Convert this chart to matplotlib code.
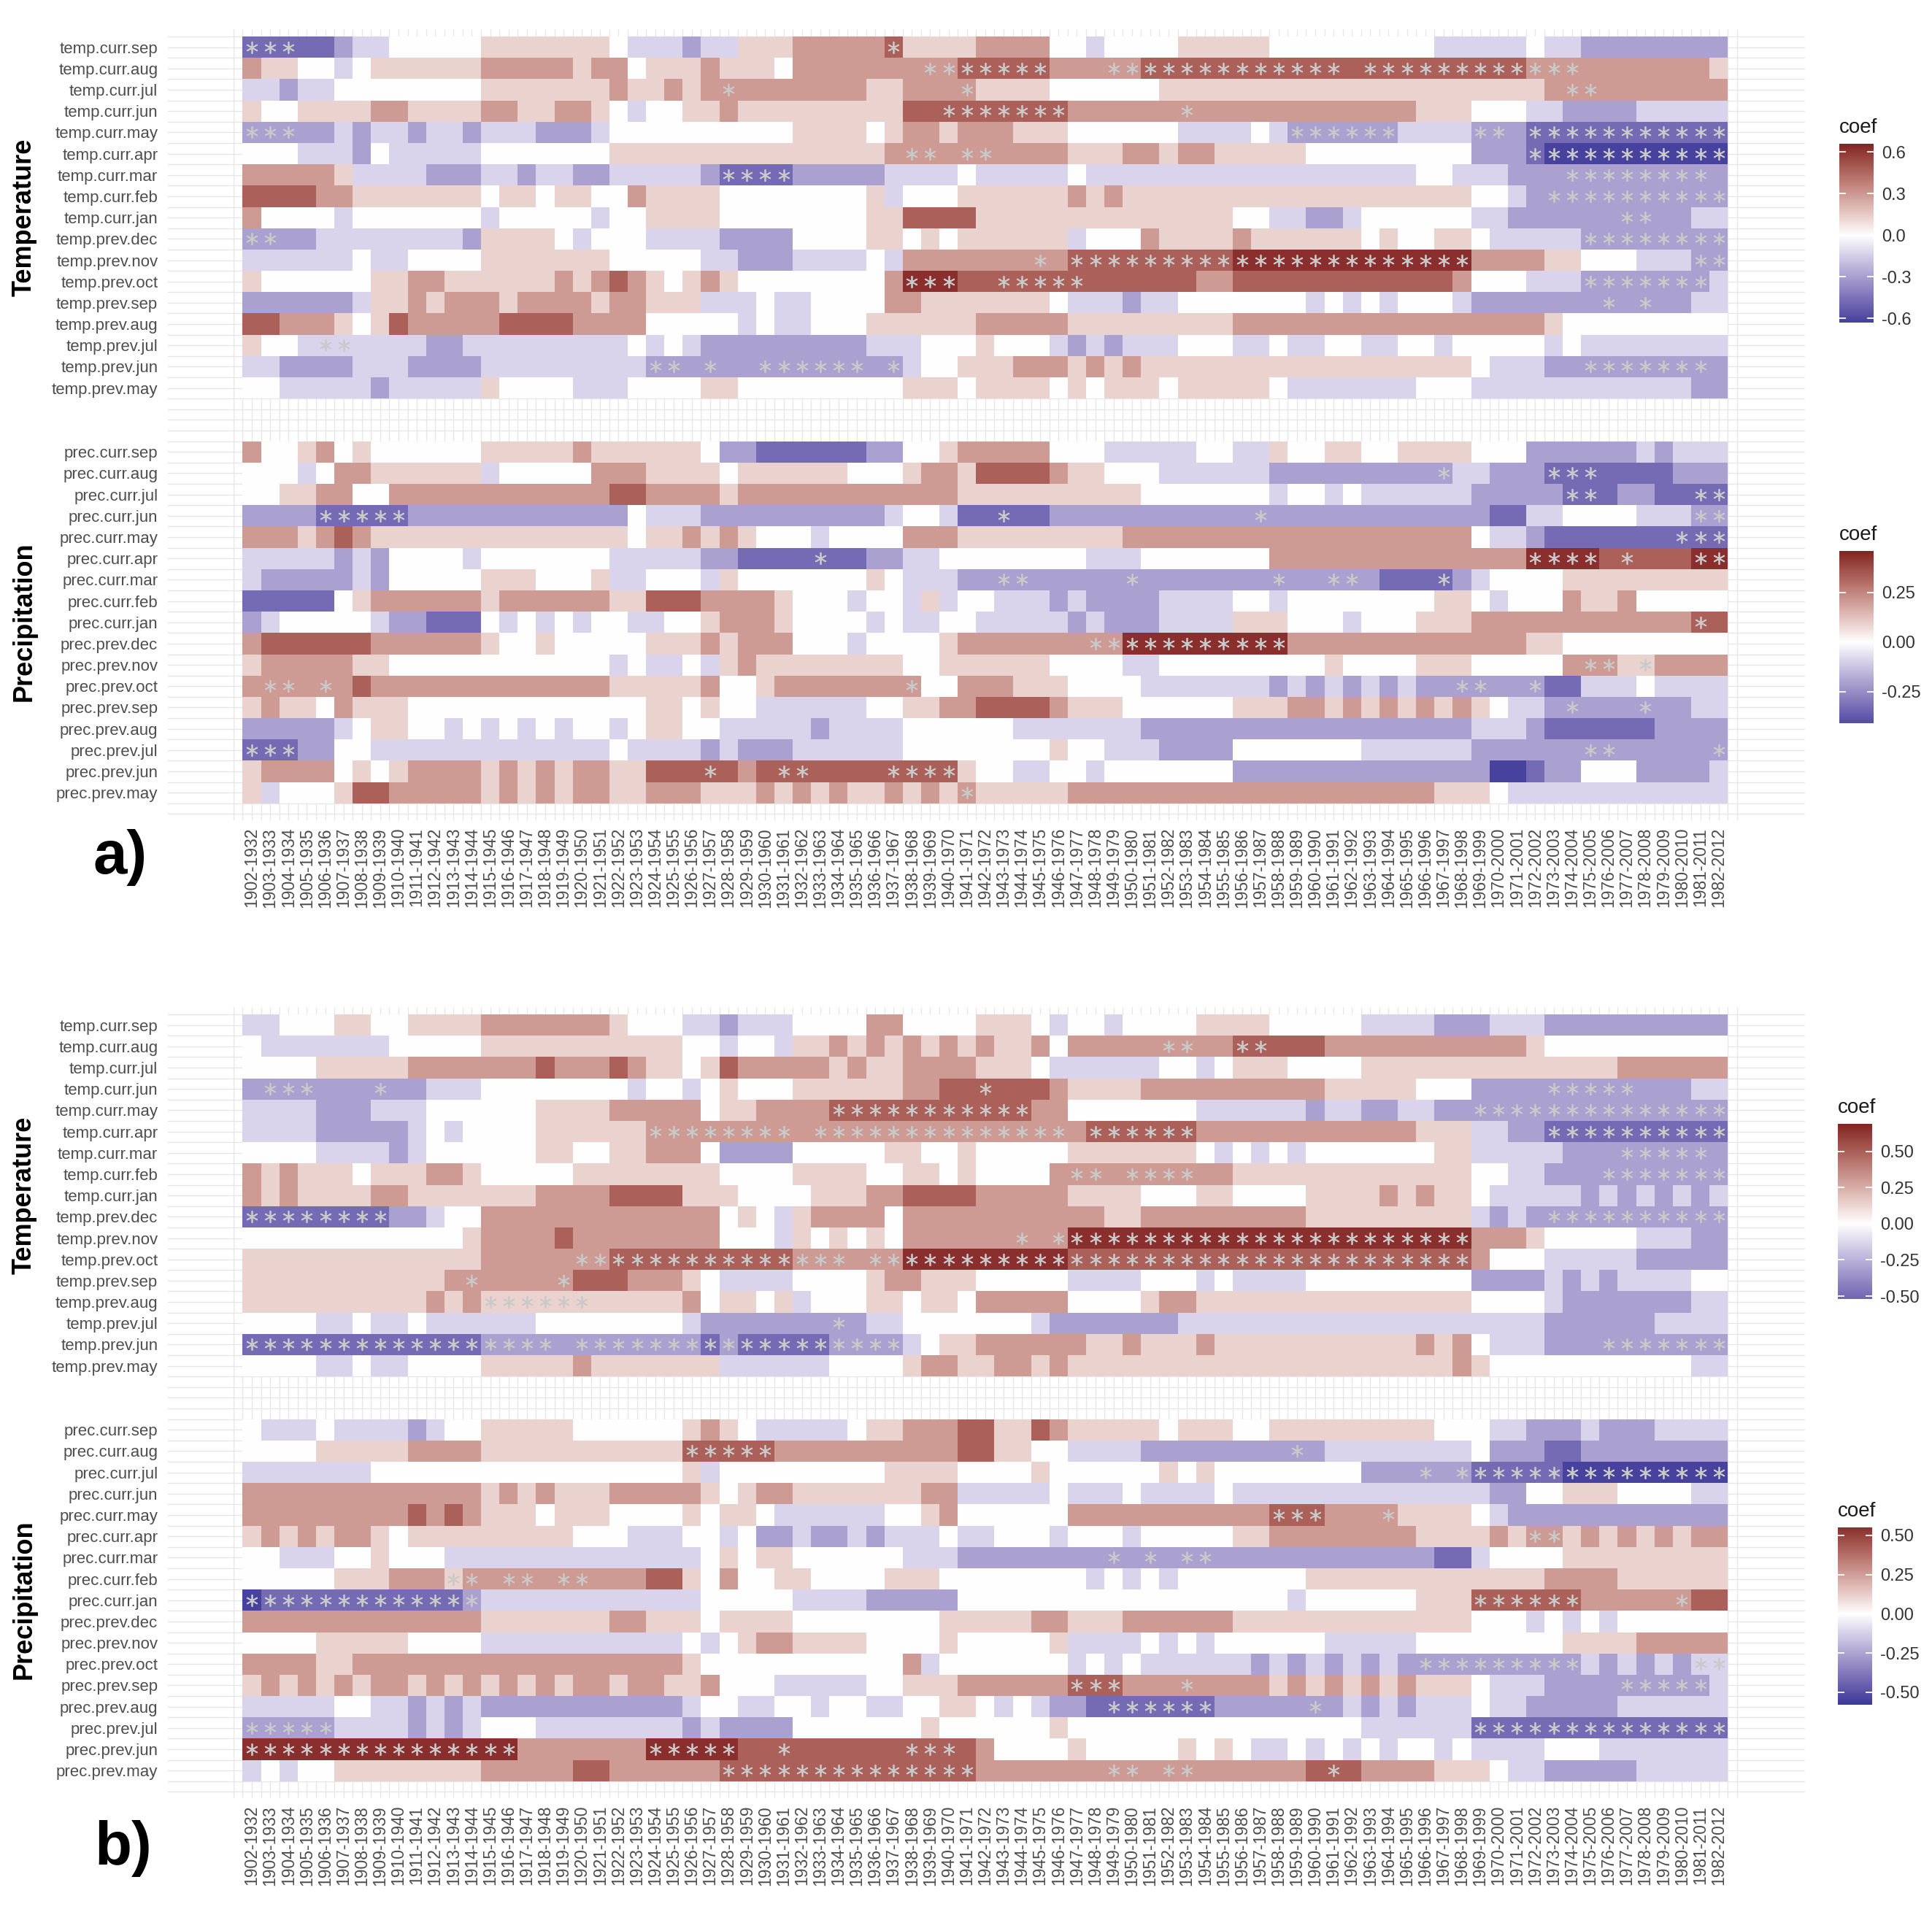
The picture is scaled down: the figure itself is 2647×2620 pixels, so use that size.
import numpy as np
import matplotlib
matplotlib.use("Agg")
import matplotlib.pyplot as plt
from matplotlib.colors import ListedColormap, Normalize

plt.rcParams['font.family'] = ['Liberation Sans', 'DejaVu Sans']

# ---------------- data ----------------
periods = [f"{y}-{y + 30}" for y in range(1902, 1983)]
months = ['curr.sep', 'curr.aug', 'curr.jul', 'curr.jun', 'curr.may', 'curr.apr',
          'curr.mar', 'curr.feb', 'curr.jan', 'prev.dec', 'prev.nov', 'prev.oct',
          'prev.sep', 'prev.aug', 'prev.jul', 'prev.jun', 'prev.may']
temp_labels = ['temp.' + m for m in months]
prec_labels = ['prec.' + m for m in months]

# colour level of each tile: 1 = deep blue, 5 = white, 9 = deep red
level_fraction = {'1': -0.95, '2': -0.72, '3': -0.45, '4': -0.2, '5': 0.0,
                  '6': 0.2, '7': 0.45, '8': 0.72, '9': 0.95}

# colour bar ranges (min, max) of each heatmap
temp_a_range = (-0.63, 0.66)
prec_a_range = (-0.41, 0.46)
temp_b_range = (-0.52, 0.69)
prec_b_range = (-0.58, 0.55)

temp_a = [
    "22222 3 44 55555 6666666 5 444 3 44 | 666 7777 7 8 6666 7777 55 4 5555 666 | 66 555555555 44444 5 44 33333333",
    "7 66 55 4 5 666666 77777 67 7 5 666 7 6 | 665 7777 77 777 88888 77777 88888 | 8888888888888888 777 7777777 6",
    "44344 5 5555555 6666666 7 6 6 7 6 7 7 | 7777777 66 7777 6666 55 5555 6666 | 6666666666666666 6 77 77777777",
    "6 5 5 6 6 66 77 6666 7766776 5 4 55 66 7 | 666 6666 66 88 8 888888 7777 77777 | 7777777777 666 555 44 3333 444 44",
    "333 33 4 3 44344 3 444 333 4 5 55555 5 | 555 6666 5 6 77 6 7 77666 5555 55 444 | 4 5 4 333333 4444 333 22222222222",
    "555 4 4 4 3 5 44444 55555 556 6666 6 6 | 66666666 7 777777777 666 77 6776 | 6666 5555555 55 333 2 1111111111",
    "777 7 7 6 4 44 4 333 44344 33 4 4444 3 2 | 222 33333 4 444 5 44444 5 44444444 | 4444444444 55 4 44333 33333333 3",
    "8888 7 7 6 666666 5665665 5 7 6666 5 | 555 5555 6 4 555 66666 67676 66666 | 6666666666666 55 4 3 3333333333",
    "7 5555 4 5555555 4 5555 5 4 55 666 6 5 | 5 55 5555 66 8888 666666 66666666 | 55 4 4334 5555 5 5 44 333 333 33 3344",
    "33 33 4 4 44 44 44 3 666 6 5 4 5 55 4444 3 | 333 5555 66 565 666666 4 555 76666 | 76 66666 5655 66 5 4444 4 33333333",
    "44444 4 5 44 555 5 6666666 5 55 55 4 4 | 333 4444 5 4 777 7777 7 7 888888888 | 9999999999999 7777 6 6 555 444 33",
    "6 5555 5 5 66 7766 6 66 676 7 8 7 6 5 6 7 6 | 55555555 7 999 88 88888 88888877 | 888888888888 7 555 4 44 3333333 4",
    "333333 4 6 6 76777677776 77 666 4 4 | 4 5 44 555 5 7 7 6666666 5 444 3 44 555 | 555 545454555 4 33333 3 33333344",
    "88 77 7 6 5 6 8 7777 788887 777 5555 5 | 4 5 44 555 6666 66 7777 7 666666666 | 77777777777777777 6 5 55 5 55555",
    "6 55 4 44 4444 33 4 4444444 4 5 4 5 4 33 | 3333333 44 4 555 6 555 4 343 444 555 | 4454455445545 5555 4 5 44444444",
    "4 4 33 33 444 3333 4444444 44 33 3 3 3 | 3 333333 3 3 4 55 6 66 777 676766 666 | 6666666666666 5 444 33 3333333 3",
    "55 44 4 44 3 44444 6 5555 4 4 4 5555 6 6 | 555555555 6 66 5 6666 5 656665666 | 66 5 4444444 555 4444 44 444444 33",
]
temp_a_sig = ["0-2 35", "37-43 47-59 61-72", "26 39 72-73", "38-44 51", "0-2 57-62 67-68 70-80",
              "36-37 39-40 70-80", "26-29 72-79", "71-80", "75-76", "0-1 73-80", "43 45-66 79-80",
              "36-38 41-45 73-79", "74 76", "", "4-5", "22-23 25 28-33 35 73-79", ""]

prec_a = [
    "7 55 6 7 5 6 5 5 5555 66666 7 66 6666 5 3 | 3 22222 2 33 5 5 6 77777 5 55 4444 455 | 44 655665566 66 555 33 333 3 434 44",
    "55 5 4 5 77 66 6666 4 55555 777 666 6 5 | 666666 555 6 77 6 8888 7 66 555 4444 | 44 333333333 3 44 333 222 2222333",
    "55 6 6 77 5 5 7 77777777777 88 777 7 6 | 777777777 777 666666 6 66655555 | 5 5 45545 444444 3333 3 22 23322 22",
    "3333 22222 333333333333 5 444 3 3 | 33333333 4 55 4 22222 3 333333333 | 3 3 333333333333 22 44 55 55 444 33",
    "77 7 6 7 8 7 66 6666 6666666 6 5 66 7 6 7 | 6 55 5455 55 77 7 666666 666 777777 | 7777777777777 5 44 3 2222222222",
    "4 4444 3 4 3 55 55 4 5555555 44 444 3 3 | 2222 2 22 33 44 5 55 555 55 44 4 55555 | 55 777777777 77777 9999 8 8 888 99",
    "4 3333 3 4 3 5 5 5556665556 44 55 5 4 6 | 5555555 6 5 4 44 333333 33 3 3 33333 | 33 3 33 33 3 222 2 3 4 5555 6666666 66",
    "22222 5 6 777777 6 7777 77 66 888 7 7 | 77 6 555 4 55 4 6 4 55 444343 333 4444 | 55 4 55555555 66 5 4 555 7 66 7 55555",
    "3 4 555 55 4 33 222 5 454545 5 4 4 5 5 6 7 | 77 6 555545 44 55 4444 434333 4444 | 666 5554555 666 7777 77777777 88",
    "7 8888 88 7 77777 6556555 55 666 7 6 | 777 55545555 6 777777 7 77 999999 | 999 7777777 777777 66 555555555",
    "6 7777 7 6 6 5 5555 5555555 4 5 4 4 5 4 6 | 7 666 66666 55 6 66666 5 555445555 | 55 55565555 666 5555 5 7 77 6 6 77 77",
    "7 77 7 7 7 8 7777777777777 66 666 7 5 | 5 6 777777 7 7 5 5 777 666 5555 44444 | 44 3434343433 33 33 3 22 444 5 44 44",
    "6 7 6 6 5 7 6 6 6 5555 5555555 5 5 66 5 6 5 | 5 44 4444 55 66 7 7 8888 7 666 555555 | 666 77676767676 5 4 4 33 333 3 33 44",
    "33333 4 5 66 5545 4 54545 5 4 5 66 5 5 4 | 4 44 4344 44 5555 55 44 44444 33333 | 33 333333333 33 444 3 2222223333",
    "222 33 55 44 4444 4 444444 5 4444 3 4 | 333 4444 44 55 5 55555 6 55 444 3333 | 55 5 5555 444 444 333 333 33 3333 33",
    "6 7777 5 6 5 6 7777 67676 77 66 888 8 8 | 7 8 88 8888 8888 6 55 44 55455 55555 | 333 33333 333 333 11 2 33 555 333 34",
    "6 4 555 6 88 7 7777 676767 7 66 777 6 6 | 676767667676 7 66666 777777777 | 77777777777 666 5 444444444444",
]
prec_a_sig = ["", "65 71-73", "72-73 79-80", "4-8 41 55 79-80", "78-80", "31 70-73 75 79-80",
              "41-42 48 56 59-60 65", "", "79", "46-56", "73-74 76", "1-2 4 36 66-67 70", "72 76",
              "", "0-2 73-74 80", "25 29-30 35-38", "39"]

temp_b = [
    "44 55 5 6 6 55 6 666 777 7777 6 555 44 3 | 444 5555 77 5555 666 5 4 55 4 5555 66 | 66 55555 4444 333 444 3333333333",
    "5 444 4 444 5 5555 66666 66 6666 5 5 4 | 5 5 4 66767676767667 5 7777 777 77 | 88 888 77777777 777 6 5555555555",
    "5555 6 66 66 7777 777 8 777 8 766 5 6 8 | 77 77 76766 7777 666 5 444444 5 545 | 66655 55 6666666666 66 66777777",
    "3 333 333 3 33 44 4 555 55 55 5 4 55 4 5 6 | 55 5 6666 66 77 88 8 888 7 6666 77777 | 7777 7 66666 555 333 3 33333 33344",
    "4444 33 3 44 4 55 5 555 66 66 7 777 7 5 6 | 6 77 77 88888888888 7 7 555555544 | 4444344334433 333 33333333333",
    "4444 333 33 4 5 4 5 555 6666 66 7777 7 | 777 7 7777 7777777777 7 888888 77 | 7777777777 666 443 3 2222222222",
    "5555 4 44 4 3 4 55 5 555 66 55 66 777 5 3 | 333 5 5 55 5 6 6 55 6 55555 6666666 5 4 | 54545 55 555 566 44444 333 3 333 33",
    "76766 6 5 66 6 77 6 5 5555 66 6666 6 6 5 | 555 6666 55 6 6 5 6 5555 7 77 7 7777 77 | 6666666666666 5 5 44 3333333333",
    "7 6766 66 77 6 666 666 77 77 8888 6 6 6 | 555 5 666 77 8888 77777 6666 555 66 | 5555 666 676 7 66 5 44 444 34343434",
    "22222222 33 4 55 77777 77 7777 77 5 | 6 5 4 6 777 7 5 777777777 77 66 77777 | 7777 666 6666 66 4343 3333333333",
    "5 555 5 55 55 5 55 6 777 7 8 77 7777 77 5 | 55 4 65656 5 777777 7 77 999999999 | 9999999999999 7 77 6 55555 444 33",
    "66666 66 66 6 666 77 777 77 8888 888 | 888 7777 7 7 999999999 88888888 8 | 8888 888888888 7 555 444 44 33333",
    "66666666666 77 77777 888 777 6 5 4 | 44 4 5555 6 7 7 666 55555 444 4 55545 | 4444 555555555 3333 43434 444 55",
    "666666666 6 767 66666 66 6666 7 5 6 | 6 5 6 4 555 66 5 6 6 5 77777 5555 67766 | 66 66666666666 5555 4 33333 3344",
    "5555 44 5 44 5 444 444 55 555 555 4 33 | 3333333 44 55 55 555 4 3 333333 4 44 | 4444444444444 4444 3333 33 44 44",
    "2222222222222 3333 3 33333332 3 | 222223333 4 5 6 6 77777 766766676 | 66666 66 666 767 5 444 333 3333333",
    "5555 44544 5555 66666 76 6666 66 4 | 44444 55 55 6 77 6 67767 666666666 | 666666666666 7 6 5555555555544",
]
temp_b_sig = ["", "50-51 54-55", "", "1-3 7 40 71-75", "32-42 67-80", "22-29 31-44 46-51 71-80",
              "75-79", "45-46 48-51 74-80", "", "0-7 71-80", "42 44-66", "18-32 34-66", "12 17",
              "13-18", "32", "0-16 18-35 74-80", ""]

prec_b = [
    "5 444 5 44 44 3 4 55 66666 55 5555 6 7 6 | 5 44 444 5 66 777 88 66 8 7 6666 65666 | 55 66666 6666 555 4433343334444",
    "5555 66 666 77 77 666 6 666 6666 888 | 88 7777777777 88 66 55 4444 33333 | 33333 44444 444 5 333 22 33333333",
    "44444 44 55 5555 55555 55 5555 6 4 5 | 55555555 6666 5555 6 55555 56565 | 55 555 55 333 3 3 3 22222 111111111",
    "7777777777777 67676 66 77777 6 5 | 6 77 6666 666 77 44444 5 444 5 44445 | 44 444 44444 4444 33 55 666 5555 44",
    "77777 7 777 8787 666 5 666 5 555 6 5 6 | 6 5 444444 55 6 7 555555 777777777 | 77 888 777 7 6666 5 4 333333333333",
    "67676 77 6 5 6 666 66 666 555 444 55 4 | 5 3343343 444 5 44 555 4 555 4 55555 | 66 77777 777 666 676 77 676767677",
    "55 44 4 55 6 5 55 44 44444 44 4444 4 5 6 | 5 6 6 5 5555 5 444 3333 3 33 33333333 | 3333333333322 4 5555 666666666",
    "55555 66 6 7 77 6 7 7 77 77 7 777 88 6 5 7 | 5 5 6 6 5555 66 6 55 55555 545454555 | 5555 666666 666 6666 7777 6666 66",
    "1222222222223 44444 44 44444 5 5 | 555 4444 33333 55555555 5555555 | 55545 55555 666 888888 777777 88",
    "7777777777777 66666 66 77 66 6 5 6 | 666 55555 5 5 5 66 666 77 666 777777 | 6666666 666 666 55545454555555",
    "5555 666 66 55 55 44444 44 4444 5 4 5 | 6 77 6666 55 55 6 55555 6 4444 54545 | 55 555 44444 555 55555 666 6 777 77",
    "7777 66 777 7777 77777 77 7777 6 5 5 | 555 555555 7 4 55 55555 4545 44444 | 4343434343 3 3 3 333333 434343 44",
    "6767 6 76 77 6767 67676 77 67 76 6 7 5 | 55 4 4444 55 66 6 7 77777 888 777 777 | 77676767676 66 5 444 3333 33333 4",
    "44444 55 44 3434 33333 33 3333 4 5 5 | 44 55455 44 55 66 5454 33 2222222 3 | 3333 3 34343 444 5 44 33333 4444 44",
    "33333 4 4 44 3434 555 44 44 4444 3 4 3 | 333 5555 55 5 6 55 5555 6 555555555 | 5555555 444 444 22222222222222",
    "999999999999999 777 77 77 9999 9 | 88 8 8 888888 888 7 5555 6 555556565 | 4454545455454 444 555 44444444",
    "4545 5 66 666666 77777 88 77 7777 8 | 8888888888888 7777777 77 77 7 77 | 7777 888 7777 66 6 5 443333344444",
]
prec_b_sig = ["", "24-28 57", "64 66-80", "", "56-58 62", "70-71", "47 49 51-52",
              "11-12 14-15 17-18", "0-12 67-72 78", "", "", "64-72 79-80", "45-47 51 75-79",
              "47-52 58", "0-4 67-80", "0-14 22-26 29 36-38", "26-39 47-48 50-51 59"]


# ---------------- helpers ----------------
def decode(rows, vmax):
    out = []
    for s in rows:
        s = s.replace(" ", "").replace("|", "")
        s = (s + s[-1] * 81)[:81]
        out.append([level_fraction[c] * vmax for c in s])
    return np.array(out)


def star_cells(rows):
    cols, rws = [], []
    for r, s in enumerate(rows):
        for part in s.split():
            a, _, b = part.partition("-")
            for c in range(int(a), int(b or a) + 1):
                cols.append(c)
                rws.append(r)
    return np.array(cols), np.array(rws)


# ggplot2 scale_fill_gradient2 look: muted blue -> white -> muted red, Lab ramp
_M = np.array([[0.4124, 0.3576, 0.1805], [0.2126, 0.7152, 0.0722], [0.0193, 0.1192, 0.9505]])
_WHITE = np.array([0.95047, 1.0, 1.08883])


def rgb2lab(rgb):
    c = np.asarray(rgb, float)
    lin = np.where(c <= 0.04045, c / 12.92, ((c + 0.055) / 1.055) ** 2.4)
    xyz = _M @ lin / _WHITE
    f = np.where(xyz > 0.008856, np.cbrt(xyz), 7.787 * xyz + 16 / 116)
    return np.array([116 * f[1] - 16, 500 * (f[0] - f[1]), 200 * (f[1] - f[2])])


def lab2rgb(lab):
    L, a, b = lab
    fy = (L + 16) / 116
    f = np.array([fy + a / 500, fy, fy - b / 200])
    xyz = np.where(f ** 3 > 0.008856, f ** 3, (f - 16 / 116) / 7.787) * _WHITE
    lin = np.clip(np.linalg.solve(_M, xyz), 0, 1)
    return np.clip(np.where(lin <= 0.0031308, 12.92 * lin, 1.055 * lin ** (1 / 2.4) - 0.055), 0, 1)


low = rgb2lab(matplotlib.colors.to_rgb("#3A3A98"))
mid = rgb2lab((1, 1, 1))
high = rgb2lab(matplotlib.colors.to_rgb("#832424"))
ramp = []
for t in np.linspace(0, 1, 256):
    if t < 0.5:
        ramp.append(lab2rgb(low + (mid - low) * (t / 0.5)))
    else:
        ramp.append(lab2rgb(mid + (high - mid) * ((t - 0.5) / 0.5)))
cmap = ListedColormap(ramp)

W, H = 2647, 2620
GRID = "#E6E6E6"
TXT = "#4D4D4D"

fig = plt.figure(figsize=(W / 100, H / 100), dpi=100)


def rect(x0, y0, x1, y1):
    return [x0 / W, 1 - y1 / H, (x1 - x0) / W, (y1 - y0) / H]


def colorbar(r, vrange, ticks, labels):
    lo, hi = vrange
    m = max(abs(lo), abs(hi))
    cax = fig.add_axes(r)
    grad = np.linspace(lo, hi, 400)[:, None]
    cax.imshow(grad, aspect="auto", cmap=cmap, norm=Normalize(-m, m),
               extent=[0, 1, lo, hi], origin="lower", interpolation="bilinear")
    cax.set_xlim(0, 1)
    cax.set_ylim(lo, hi)
    cax.hlines(ticks, 0, 0.2, color="white", lw=1.3)
    cax.hlines(ticks, 0.8, 1, color="white", lw=1.3)
    cax.set_xticks([])
    cax.yaxis.tick_right()
    cax.set_yticks(ticks, labels)
    cax.tick_params(length=0, pad=8, labelsize=17, labelcolor="#333333")
    for s in cax.spines.values():
        s.set_visible(False)
    fig.text(r[0], r[1] + r[3] + 9 / H, "coef", fontsize=20, color="#1A1A1A",
             ha="left", va="bottom")


def heat_panel(r, t_rows, t_sig, t_range, p_rows, p_sig, p_range):
    ax = fig.add_axes(r)
    ax.set_xlim(-4.1, 85.2)
    ax.set_ylim(36.8, -0.35)
    for y in np.arange(0, 36.51, 0.5):
        ax.axhline(y, color=GRID, lw=0.9, zorder=0)
    ax.vlines(np.arange(-0.5, 81.51, 0.5), -0.35, 36.8, color=GRID, lw=0.9, zorder=0)

    for rows, sig, vr, y0 in [(t_rows, t_sig, t_range, 0), (p_rows, p_sig, p_range, 19)]:
        m = max(abs(vr[0]), abs(vr[1]))
        vals = decode(rows, m)
        ax.pcolormesh(np.arange(82), np.arange(18) + y0, vals, cmap=cmap,
                      norm=Normalize(-m, m), zorder=2)
        sc, sr = star_cells(sig)
        ax.scatter(sc + 0.5, sr + 0.5 + y0, marker=(6, 2, 0), s=125, c="#C9C9C9",
                   linewidths=1.3, zorder=3)

    ax.set_yticks(list(np.arange(17) + 0.5) + list(np.arange(17) + 19.5),
                  temp_labels + prec_labels)
    ax.set_xticks(np.arange(81) + 0.5, periods, rotation=90)
    ax.tick_params(axis="y", length=0, pad=9.5, labelsize=16, labelcolor=TXT)
    ax.tick_params(axis="x", length=0, pad=7, labelsize=16.5, labelcolor=TXT)
    for s in ax.spines.values():
        s.set_visible(False)
    return ax


# panel a
heat_panel(rect(229.5, 39.8, 2472.7, 1124.2), temp_a, temp_a_sig, temp_a_range,
           prec_a, prec_a_sig, prec_a_range)
colorbar(rect(2520, 197, 2567, 442), temp_a_range, [-0.6, -0.3, 0, 0.3, 0.6],
         ["-0.6", "-0.3", "0.0", "0.3", "0.6"])
colorbar(rect(2520, 755, 2567, 991), prec_a_range, [-0.25, 0, 0.25],
         ["-0.25", "0.00", "0.25"])

# panel b
heat_panel(rect(229.5, 1379.8, 2472.7, 2464.2), temp_b, temp_b_sig, temp_b_range,
           prec_b, prec_b_sig, prec_b_range)
colorbar(rect(2518, 1540, 2565, 1780), temp_b_range, [-0.5, -0.25, 0, 0.25, 0.5],
         ["-0.50", "-0.25", "0.00", "0.25", "0.50"])
colorbar(rect(2518, 2093, 2565, 2336), prec_b_range, [-0.5, -0.25, 0, 0.25, 0.5],
         ["-0.50", "-0.25", "0.00", "0.25", "0.50"])

# side titles and panel letters
for yc, name in [(298, "Temperature"), (852, "Precipitation"),
                 (1638, "Temperature"), (2192, "Precipitation")]:
    fig.text(33 / W, 1 - yc / H, name, rotation=90, fontsize=26, fontweight="bold",
             ha="center", va="center")
fig.text(165 / W, 1 - 1175 / H, "a)", fontsize=60, fontweight="bold", ha="center", va="center")
fig.text(169 / W, 1 - 2533 / H, "b)", fontsize=60, fontweight="bold", ha="center", va="center")

fig.savefig("out.png", dpi=100, facecolor="white")
